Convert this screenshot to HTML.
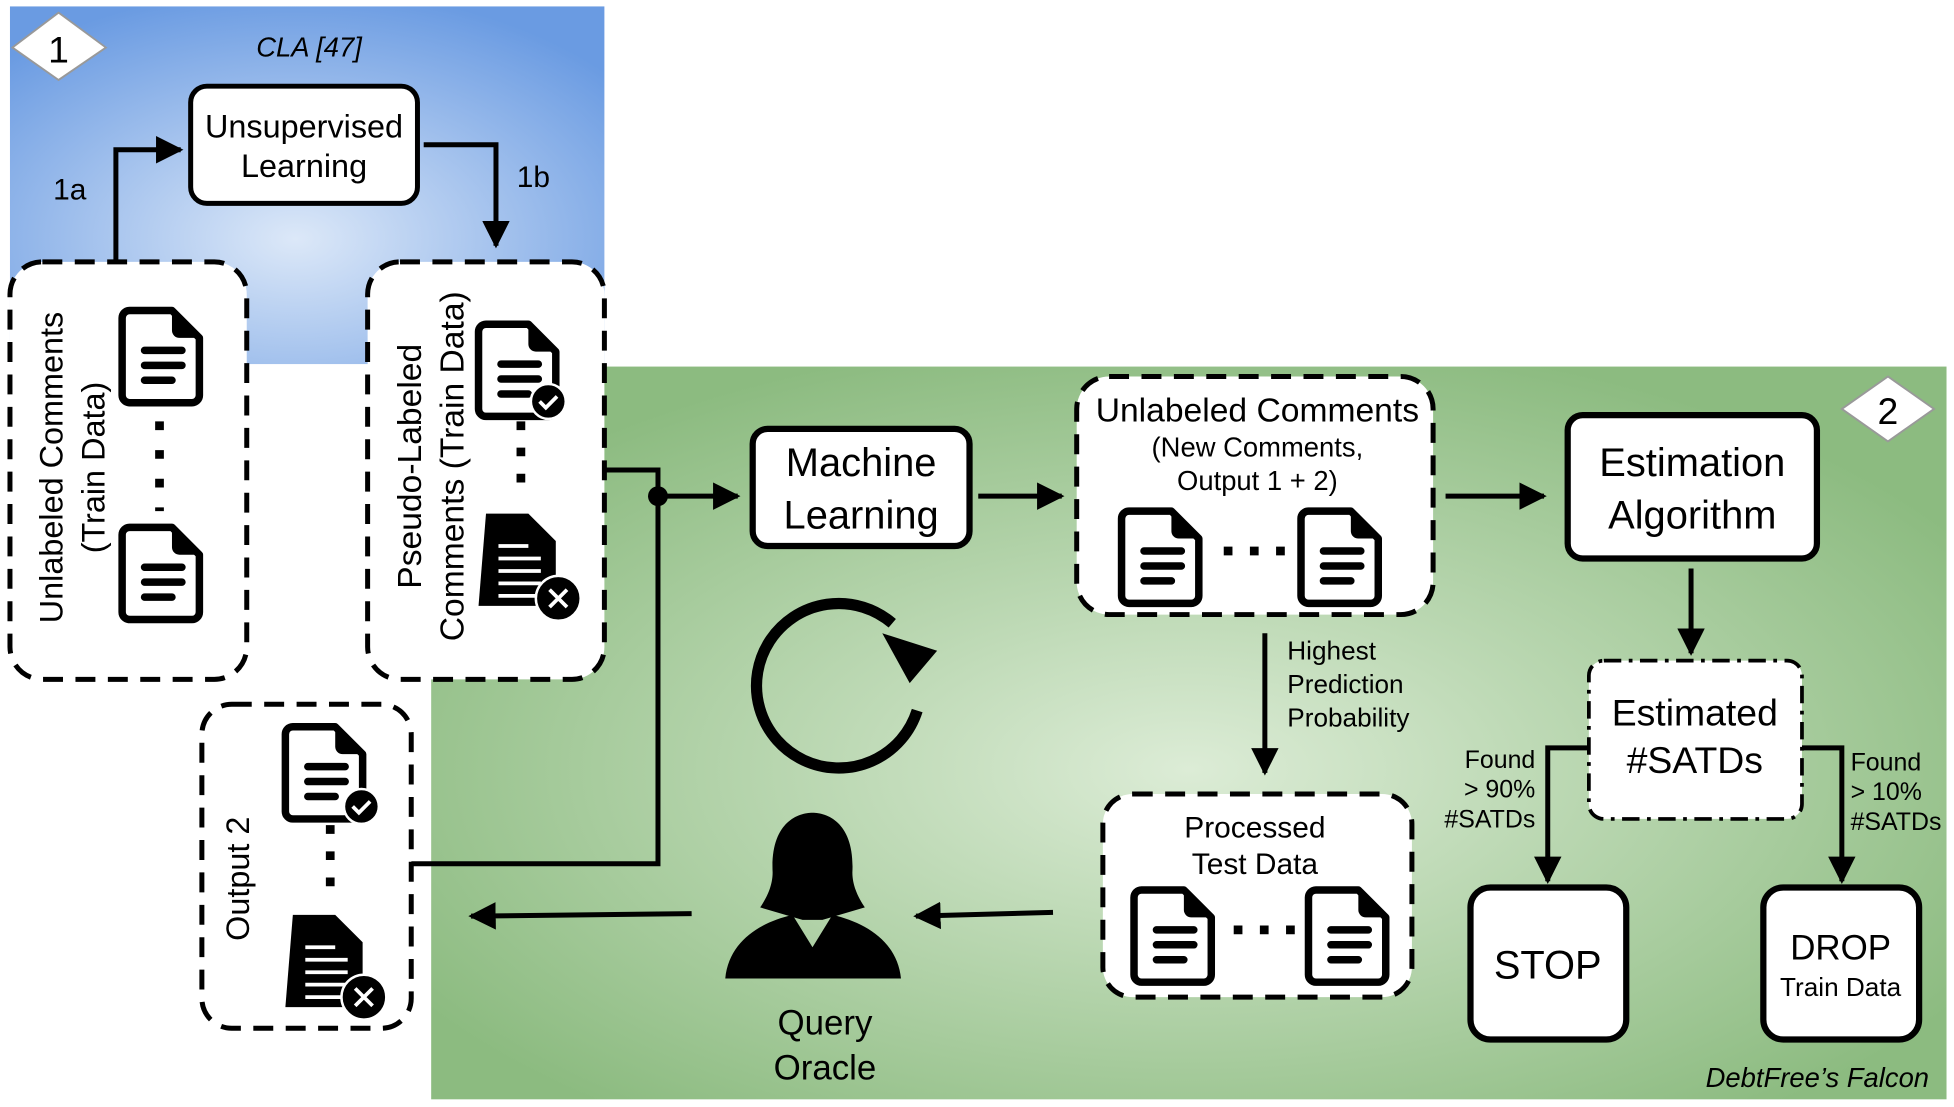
<!DOCTYPE html>
<html><head><meta charset="utf-8"><style>html,body{margin:0;padding:0;background:#fff}svg{display:block}text{font-family:"Liberation Sans",Arial,sans-serif}</style></head><body>
<svg width="1954" height="1107" viewBox="0 0 1568 888" xmlns="http://www.w3.org/2000/svg">
<defs>
<radialGradient id="gb" cx="0.48" cy="0.65" r="0.7"><stop offset="0" stop-color="#dce8f8"/><stop offset="1" stop-color="#6a9be2"/></radialGradient>
<radialGradient id="gg" cx="0.5" cy="0.55" r="0.6"><stop offset="0" stop-color="#dcecd6"/><stop offset="1" stop-color="#8cbb80"/></radialGradient>
<marker id="ah" viewBox="0 0 10 10" refX="9" refY="5" markerWidth="5.5" markerHeight="5.5" orient="auto"><path d="M0,0L10,5L0,10z" fill="#000"/></marker>
<g id="doc"><path d="M-28,-34 h34 l22,22 v46 a6,6 0 0 1 -6,6 h-50 a6,6 0 0 1 -6,-6 v-62 a6,6 0 0 1 6,-6z" fill="#fff" stroke="#000" stroke-width="6" stroke-linejoin="round"/><path d="M6,-34 v16 a6,6 0 0 0 6,6 h16z" fill="#000"/><path d="M-16,-2h30M-16,10h30M-16,22h22" stroke="#000" stroke-width="6" stroke-linecap="round"/></g>
<g id="sdoc"><path d="M-28,-34 h34 l22,22 v52 h-62z" fill="#000"/><path d="M-18,-8h24M-18,2h34M-18,12h34M-18,22h34M-18,32h34" stroke="#fff" stroke-width="3"/></g>
</defs>
<rect x="8" y="5" width="477" height="287" fill="url(#gb)"/>
<rect x="346" y="294" width="1216" height="588" fill="url(#gg)"/>
<polygon points="10,38 47,10 85,38 47,64" fill="#fff" stroke="#999" stroke-width="1.5"/>
<text x="47" y="50" font-size="30" text-anchor="middle">1</text>
<text x="248" y="45" font-size="22" font-style="italic" text-anchor="middle">CLA [47]</text>
<polygon points="1478,328 1515,302 1552,328 1515,354" fill="#fff" stroke="#999" stroke-width="1.5"/>
<text x="1515" y="340" font-size="30" text-anchor="middle">2</text>
<text x="1548" y="872" font-size="22" font-style="italic" text-anchor="end">DebtFree’s Falcon</text>
<g fill="none" stroke="#000" stroke-width="4">
<path d="M93,210V120H145" marker-end="url(#ah)"/>
<path d="M340,116H398V197" marker-end="url(#ah)"/>
<path d="M485,377H528V693H330"/>
<path d="M528,398H592" marker-end="url(#ah)"/>
<path d="M785,398H852" marker-end="url(#ah)"/>
<path d="M1160,398H1239" marker-end="url(#ah)"/>
<path d="M1357,456V524" marker-end="url(#ah)"/>
<path d="M1275,600H1242V707" marker-end="url(#ah)"/>
<path d="M1446,600H1478V707" marker-end="url(#ah)"/>
<path d="M1015,508V620" marker-end="url(#ah)"/>
<path d="M845,732L735,735" marker-end="url(#ah)"/>
<path d="M555,733L378,735" marker-end="url(#ah)"/>
</g>
<circle cx="528" cy="398" r="8"/>
<rect x="153" y="69" width="182" height="94" rx="13" fill="#fff" stroke="#000" stroke-width="4"/>
<text x="244" y="110" font-size="26" text-anchor="middle">Unsupervised</text>
<text x="244" y="142" font-size="26" text-anchor="middle">Learning</text>
<text x="56" y="160" font-size="24" text-anchor="middle">1a</text>
<text x="428" y="150" font-size="24" text-anchor="middle">1b</text>
<g fill="#fff" stroke="#000" stroke-width="4" stroke-dasharray="16,10">
<rect x="8" y="210" width="190" height="335" rx="26"/>
<rect x="295" y="210" width="190" height="335" rx="26"/>
<rect x="162" y="565" width="168" height="260" rx="24"/>
<rect x="864" y="302" width="286" height="191" rx="26"/>
<rect x="885" y="637" width="248" height="163" rx="24"/>
</g>
<rect x="1275" y="530" width="171" height="127" rx="12" fill="#fff" stroke="#000" stroke-width="3" stroke-dasharray="14,6,3,6"/>
<text transform="translate(50,375) rotate(-90)" font-size="26" text-anchor="middle">Unlabeled Comments</text>
<text transform="translate(84,375) rotate(-90)" font-size="26" text-anchor="middle">(Train Data)</text>
<text transform="translate(338,374) rotate(-90)" font-size="27" text-anchor="middle">Pseudo-Labeled</text>
<text transform="translate(372,374) rotate(-90)" font-size="27" text-anchor="middle">Comments (Train Data)</text>
<text transform="translate(200,705) rotate(-90)" font-size="26" text-anchor="middle">Output 2</text>
<use href="#doc" x="132" y="283"/><use href="#doc" x="132" y="457"/>
<path d="M128,338V410" stroke="#000" stroke-width="7" stroke-dasharray="7,16"/>
<use href="#doc" x="418" y="294"/><circle cx="440" cy="322" r="14" fill="#000" stroke="#fff" stroke-width="2"/><path d="M433,322l5,5l9,-9" stroke="#fff" stroke-width="3" fill="none"/>
<path d="M418,338V400" stroke="#000" stroke-width="7" stroke-dasharray="7,14"/>
<use href="#sdoc" x="418" y="446"/><circle cx="448" cy="480" r="18" fill="#000" stroke="#fff" stroke-width="2"/><path d="M441,473l14,14M455,473l-14,14" stroke="#fff" stroke-width="3"/>
<use href="#doc" x="263" y="617"/><circle cx="290" cy="647" r="14" fill="#000" stroke="#fff" stroke-width="2"/><path d="M283,647l5,5l9,-9" stroke="#fff" stroke-width="3" fill="none"/>
<path d="M265,662V722" stroke="#000" stroke-width="7" stroke-dasharray="7,14"/>
<use href="#sdoc" x="263" y="768"/><circle cx="292" cy="800" r="18" fill="#000" stroke="#fff" stroke-width="2"/><path d="M285,793l14,14M299,793l-14,14" stroke="#fff" stroke-width="3"/>
<rect x="604" y="344" width="174" height="94" rx="12" fill="#fff" stroke="#000" stroke-width="5"/>
<text x="691" y="382" font-size="32" text-anchor="middle">Machine</text>
<text x="691" y="424" font-size="32" text-anchor="middle">Learning</text>
<text x="1009" y="338" font-size="27" text-anchor="middle">Unlabeled Comments</text>
<text x="1009" y="366" font-size="22" text-anchor="middle">(New Comments,</text>
<text x="1009" y="393" font-size="22" text-anchor="middle">Output 1 + 2)</text>
<use href="#doc" x="934" y="444"/><use href="#doc" x="1078" y="444"/>
<path d="M982,442H1040" stroke="#000" stroke-width="7" stroke-dasharray="7,14"/>
<rect x="1258" y="333" width="200" height="115" rx="12" fill="#fff" stroke="#000" stroke-width="5"/>
<text x="1358" y="382" font-size="32" text-anchor="middle">Estimation</text>
<text x="1358" y="424" font-size="32" text-anchor="middle">Algorithm</text>
<text x="1360" y="582" font-size="30" text-anchor="middle">Estimated</text>
<text x="1360" y="620" font-size="30" text-anchor="middle">#SATDs</text>
<g font-size="20"><text x="1232" y="616" text-anchor="end">Found</text><text x="1232" y="640" text-anchor="end">&gt; 90%</text><text x="1232" y="664" text-anchor="end">#SATDs</text>
<text x="1485" y="618">Found</text><text x="1485" y="642">&gt; 10%</text><text x="1485" y="666">#SATDs</text></g>
<g font-size="21"><text x="1033" y="529">Highest</text><text x="1033" y="556">Prediction</text><text x="1033" y="583">Probability</text></g>
<rect x="1180" y="712" width="125" height="122" rx="16" fill="#fff" stroke="#000" stroke-width="5"/>
<text x="1242" y="785" font-size="32" text-anchor="middle">STOP</text>
<rect x="1415" y="712" width="125" height="122" rx="16" fill="#fff" stroke="#000" stroke-width="5"/>
<text x="1477" y="770" font-size="28" text-anchor="middle">DROP</text>
<text x="1477" y="799" font-size="21" text-anchor="middle">Train Data</text>
<text x="1007" y="672" font-size="24" text-anchor="middle">Processed</text>
<text x="1007" y="701" font-size="24" text-anchor="middle">Test Data</text>
<use href="#doc" x="944" y="748"/><use href="#doc" x="1084" y="748"/>
<path d="M990,746H1046" stroke="#000" stroke-width="7" stroke-dasharray="7,14"/>
<path d="M736,570 A66,66 0 1 1 716,500" fill="none" stroke="#000" stroke-width="9"/>
<polygon points="708,508 752,522 730,548" fill="#000"/>
<path d="M620,700 C618,660 640,652 652,652 C664,652 686,660 684,700 C684,712 690,722 694,728 L660,738 L644,738 L610,728 C614,722 620,712 620,700z" fill="#000"/>
<path d="M582,785 C585,755 610,740 636,734 L652,760 L668,734 C694,740 720,755 723,785z" fill="#000"/>
<text x="662" y="830" font-size="28" text-anchor="middle">Query</text>
<text x="662" y="866" font-size="28" text-anchor="middle">Oracle</text>
</svg>
</body></html>
